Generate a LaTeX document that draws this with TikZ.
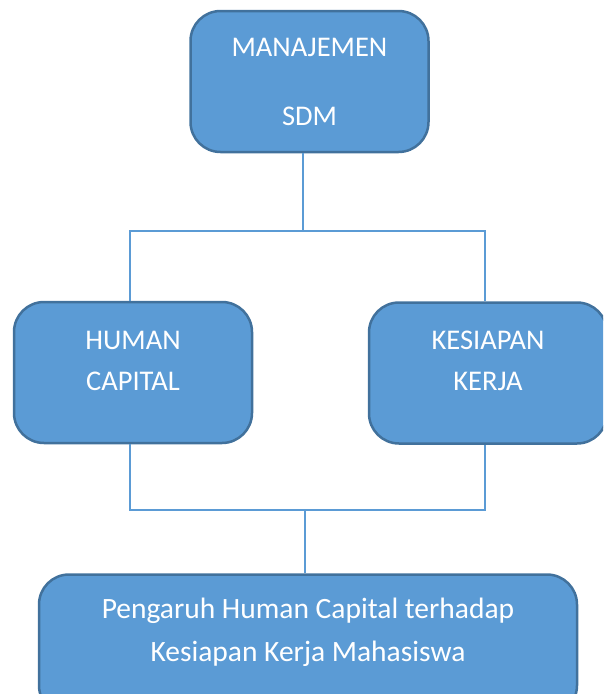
\documentclass[tikz,border=0pt]{standalone}
\usepackage{fontspec}
\setmainfont{Carlito}
\usetikzlibrary{positioning}
\definecolor{boxfill}{HTML}{5B9BD5}
\definecolor{boxline}{HTML}{41719C}
\begin{document}
\begin{tikzpicture}[x=1pt,y=-1pt,
                    box/.style={draw=boxline,fill=boxfill,line width=2.5pt,
                      rounded corners=30pt,minimum width=238pt,minimum height=141pt,
                      text=white,align=center,
                      font=\fontsize{28.5}{41}\selectfont},
                    link/.style={draw=boxfill,line width=1.4pt}]
  \useasboundingbox (0,0) rectangle (603,694);
  \clip (0,0) rectangle (603,694);

  \node[box] (sdm)     at (309.5,81.5) {MANAJEMEN\\[28pt]SDM};
  \node[box] (hc)      at (133,372.5)  {HUMAN\\CAPITAL\rule[-24pt]{0pt}{0pt}};
  \node[box] (kk)      at (488,373)    {KESIAPAN\\KERJA\rule[-24pt]{0pt}{0pt}};
  \node[box,minimum width=538pt,font=\fontsize{29.5}{43}\selectfont] (pengaruh) at (308,645)
        {Pengaruh Human Capital terhadap\\Kesiapan Kerja Mahasiswa\rule[-30pt]{0pt}{0pt}};

  \coordinate (atas)  at ([xshift=-6.5pt]sdm.south |- 0,231);
  \coordinate (bawah) at ([xshift=-3pt]pengaruh.north |- 0,510);

  \path[link] (sdm.south -| atas) -- (atas)
              ([xshift=-3pt]hc.north) |- (atas) -| ([xshift=-3pt]kk.north)
              ([xshift=-3pt]hc.south) |- (bawah) -| ([xshift=-3pt]kk.south)
              (bawah) -- (pengaruh.north -| bawah);
\end{tikzpicture}
\end{document}
